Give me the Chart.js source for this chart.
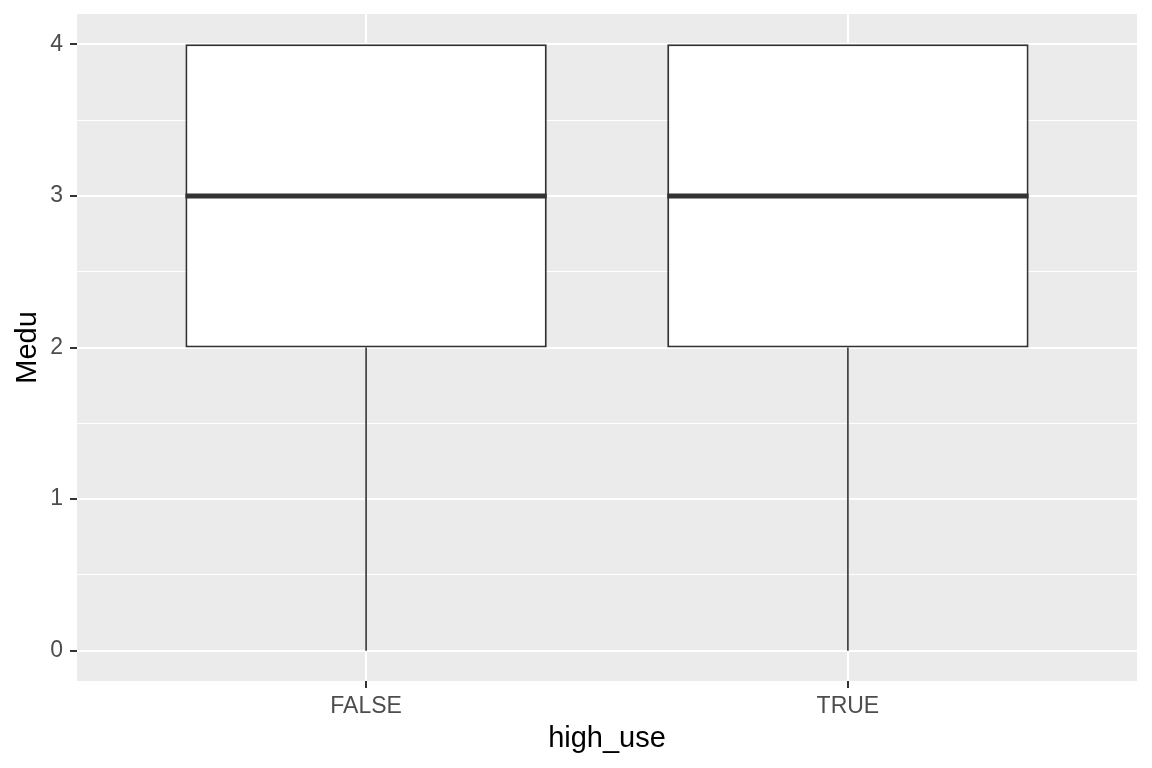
<!DOCTYPE html>
<html>
<head>
<meta charset="utf-8">
<script src="https://cdn.jsdelivr.net/npm/chart.js@4.4.1/dist/chart.umd.min.js"></script>
<style>
  html, body { margin: 0; padding: 0; background: #ffffff; }
  #wrap { width: 1152px; height: 768px; }
</style>
</head>
<body>
<div id="wrap"><canvas id="c" width="1152" height="768"></canvas></div>
<script>
// ---- data ----
const categories = ['FALSE', 'TRUE'];
const mins    = [0, 0];
const q1s     = [2, 2];
const medians = [3, 3];
const q3s     = [4, 4];
const maxs    = [4, 4];
const yTickValues = [0, 1, 2, 3, 4];
const yMinorValues = [0.5, 1.5, 2.5, 3.5];

// ---- style ----
const BOX_FRAC = 0.75;          // box width as fraction of category spacing
const HALF = BOX_FRAC / 2;
const FONT = '"Liberation Sans", Arial, Helvetica, sans-serif';
const TICK_COL = '#4D4D4D';
const LINE_COL = '#333333';

const xs = categories.map((_, i) => i + 1);

const boxData = xs.map((x, i) => ({ x: x, y: [q1s[i], q3s[i]] }));

const medianData = [];
xs.forEach((x, i) => {
  if (i > 0) medianData.push({ x: x - 0.5, y: null });
  medianData.push({ x: x - HALF, y: medians[i] });
  medianData.push({ x: x + HALF, y: medians[i] });
});

const whiskerData = [];
xs.forEach((x, i) => {
  if (i > 0) whiskerData.push({ x: x - 0.5, y: null });
  whiskerData.push({ x: x, y: mins[i] });
  whiskerData.push({ x: x, y: q1s[i] });
  whiskerData.push({ x: x, y: null });
  whiskerData.push({ x: x, y: q3s[i] });
  whiskerData.push({ x: x, y: maxs[i] });
});

const panelBg = {
  id: 'panelBg',
  beforeDraw(chart) {
    const { ctx, chartArea: a } = chart;
    ctx.save();
    ctx.fillStyle = '#EBEBEB';
    ctx.fillRect(a.left, a.top, a.right - a.left, a.bottom - a.top);
    ctx.restore();
  }
};

const isMajor = v => Math.abs(v - Math.round(v)) < 1e-9;

new Chart(document.getElementById('c'), {
  data: {
    datasets: [
      {
        type: 'line',
        data: whiskerData,
        borderColor: LINE_COL,
        borderWidth: 1.6,
        pointRadius: 0,
        spanGaps: false,
        borderCapStyle: 'butt',
        order: 3
      },
      {
        type: 'bar',
        data: boxData,
        backgroundColor: '#FFFFFF',
        borderColor: LINE_COL,
        borderWidth: 2,
        borderSkipped: false,
        barPercentage: BOX_FRAC,
        categoryPercentage: 1,
        order: 2
      },
      {
        type: 'line',
        data: medianData,
        borderColor: LINE_COL,
        borderWidth: 5,
        pointRadius: 0,
        spanGaps: false,
        borderCapStyle: 'butt',
        order: 1
      }
    ]
  },
  options: {
    responsive: false,
    animation: false,
    events: [],
    layout: { padding: { top: 14, right: 15, left: 0, bottom: 0 } },
    plugins: { legend: { display: false }, tooltip: { enabled: false } },
    scales: {
      x: {
        type: 'linear',
        offset: false,
        min: 0.4,
        max: categories.length + 0.6,
        afterBuildTicks(scale) { scale.ticks = xs.map(v => ({ value: v })); },
        afterFit(scale) { scale.height = 87; scale.paddingLeft = 0; scale.paddingRight = 0; },
        ticks: {
          callback: (v) => categories[Math.round(v) - 1] || '',
          color: TICK_COL,
          font: { family: FONT, size: 23 },
          padding: 5,
          maxRotation: 0,
          autoSkip: false
        },
        grid: {
          offset: false,
          color: '#FFFFFF',
          lineWidth: 2,
          tickColor: LINE_COL,
          tickLength: 7,
          tickWidth: 2
        },
        border: { display: false },
        title: {
          display: true,
          text: 'high_use',
          color: '#000000',
          font: { family: FONT, size: 29 },
          padding: { top: 0, bottom: 12 }
        }
      },
      y: {
        type: 'linear',
        min: -0.2,
        max: 4.2,
        afterBuildTicks(scale) {
          scale.ticks = yTickValues.concat(yMinorValues).sort((a, b) => a - b).map(v => ({ value: v }));
        },
        afterFit(scale) { scale.width = 77; scale.paddingTop = 0; scale.paddingBottom = 0; },
        ticks: {
          callback: (v) => isMajor(v) ? String(v) : '',
          color: TICK_COL,
          font: { family: FONT, size: 23 },
          padding: 7,
          autoSkip: false
        },
        grid: {
          color: '#FFFFFF',
          lineWidth: (ctx) => (ctx.tick && isMajor(ctx.tick.value)) ? 2 : 1,
          tickColor: (ctx) => (ctx.tick && isMajor(ctx.tick.value)) ? LINE_COL : 'rgba(0,0,0,0)',
          tickLength: 7,
          tickWidth: 2
        },
        border: { display: false },
        title: {
          display: true,
          text: 'Medu',
          color: '#000000',
          font: { family: FONT, size: 29 },
          padding: { top: 11, bottom: 0 }
        }
      }
    }
  },
  plugins: [panelBg]
});
</script>
</body>
</html>
